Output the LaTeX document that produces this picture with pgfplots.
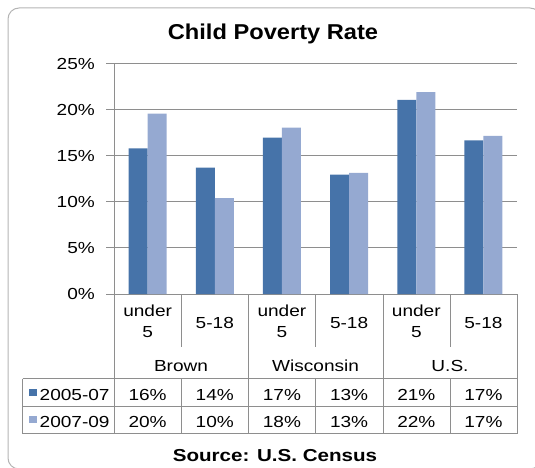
\documentclass[border=0pt]{standalone}
\usepackage{fontspec}
\setmainfont{Liberation Sans}[FakeStretch=1.19]
\newfontfamily\titlefont{Liberation Sans}[FakeStretch=1.1]
\usepackage{pgfplots}
\pgfplotsset{compat=1.18}
\definecolor{dk}{HTML}{4673A9}
\definecolor{lt}{HTML}{95A9D1}
\definecolor{gridc}{HTML}{8E8E8E}
\definecolor{framec}{HTML}{B4B4B4}
\newcommand\lbl{\fontsize{16}{19}\selectfont}

\pgfplotstableread{
x dark light
0 15.8 19.55
1 13.7 10.4
2 16.95 18.05
3 12.95 13.15
4 21.05 21.9
5 16.65 17.15
}\datatab

\begin{document}
\begin{tikzpicture}
\path[use as bounding box] (0,0) rectangle (535pt,-468pt);
\draw[framec, line width=1pt, rounded corners=11pt] (8pt,-8pt) rectangle (541pt,-469pt);

\begin{axis}[
  at={(114pt,-294pt)}, anchor=south west,
  scale only axis, width=403pt, height=230.5pt,
  xmin=-0.5, xmax=5.5, ymin=0, ymax=25,
  xtick=\empty,
  ytick={0,5,10,15,20,25},
  yticklabels={0\%,5\%,10\%,15\%,20\%,25\%},
  yticklabel style={font=\lbl, anchor=east, inner sep=0pt, xshift=-11pt},
  tick align=outside, major tick length=8pt,
  ytick style={gridc, line width=0.9pt},
  ymajorgrids, grid style={gridc, line width=0.9pt},
  axis x line*=bottom, axis y line*=left,
  axis line style={gridc, line width=0.9pt, -},
  clip=false,
]
\addplot[ybar, bar width=19pt, bar shift=-9.5pt, fill=dk, draw=none] table[x=x, y=dark] {\datatab};
\addplot[ybar, bar width=19pt, bar shift=9.5pt, fill=lt, draw=none] table[x=x, y=light] {\datatab};
\end{axis}

\begin{scope}[x=1pt, y=-1pt]
  % title and source
  \node[anchor=base, inner sep=0pt, font=\titlefont\bfseries\fontsize{21.5}{24}\selectfont] at (273,40) {Child Poverty Rate};
  \node[anchor=base, inner sep=0pt, font=\bfseries\fontsize{17.3}{20}\selectfont] at (275,461.5) {Source: U.S. Census};
  % table lines
  \begin{scope}[draw=gridc, line width=0.9pt]
    \draw (114,294) -- (114,433.5);
    \draw (517,294) -- (517,433.5);
    \foreach \xx in {248.3,383} \draw (\xx,294) -- (\xx,433.5);
    \foreach \xx in {181,315.5,450} {\draw (\xx,294) -- (\xx,347); \draw (\xx,378.7) -- (\xx,433.5);}
    \draw (22.5,378.7) -- (517,378.7);
    \draw (22.5,406) -- (517,406);
    \draw (22.5,433.5) -- (517,433.5);
    \draw (22.5,378.7) -- (22.5,433.5);
  \end{scope}
  % category labels
  \foreach \cx in {147.6,281.9,416.3} {
    \node[anchor=base, inner sep=0pt, font=\lbl] at (\cx,316.7) {under};
    \node[anchor=base, inner sep=0pt, font=\lbl] at (\cx,337.3) {5};
  }
  \foreach \cx in {214.8,349.1,483.4} {
    \node[anchor=base, inner sep=0pt, font=\lbl] at (\cx,328.3) {5-18};
  }
  \node[anchor=base, inner sep=0pt, font=\lbl] at (181,371) {Brown};
  \node[anchor=base, inner sep=0pt, font=\lbl] at (315.6,371) {Wisconsin};
  \node[anchor=base, inner sep=0pt, font=\lbl] at (450,371) {U.S.};
  % legend keys
  \fill[dk] (29.3,388.5) rectangle (37,396);
  \fill[lt] (29.3,415.5) rectangle (37,423);
  \node[anchor=base west, inner sep=0pt, font=\lbl] at (39.5,400) {2005-07};
  \node[anchor=base west, inner sep=0pt, font=\lbl] at (39.5,427.5) {2007-09};
  % values
  \foreach \cx/\a/\b in {147.6/16/20, 214.8/14/10, 281.9/17/18, 349.1/13/13, 416.3/21/22, 483.4/17/17} {
    \node[anchor=base, inner sep=0pt, font=\lbl] at (\cx,400) {\a\%};
    \node[anchor=base, inner sep=0pt, font=\lbl] at (\cx,427.5) {\b\%};
  }
\end{scope}
\end{tikzpicture}
\end{document}
